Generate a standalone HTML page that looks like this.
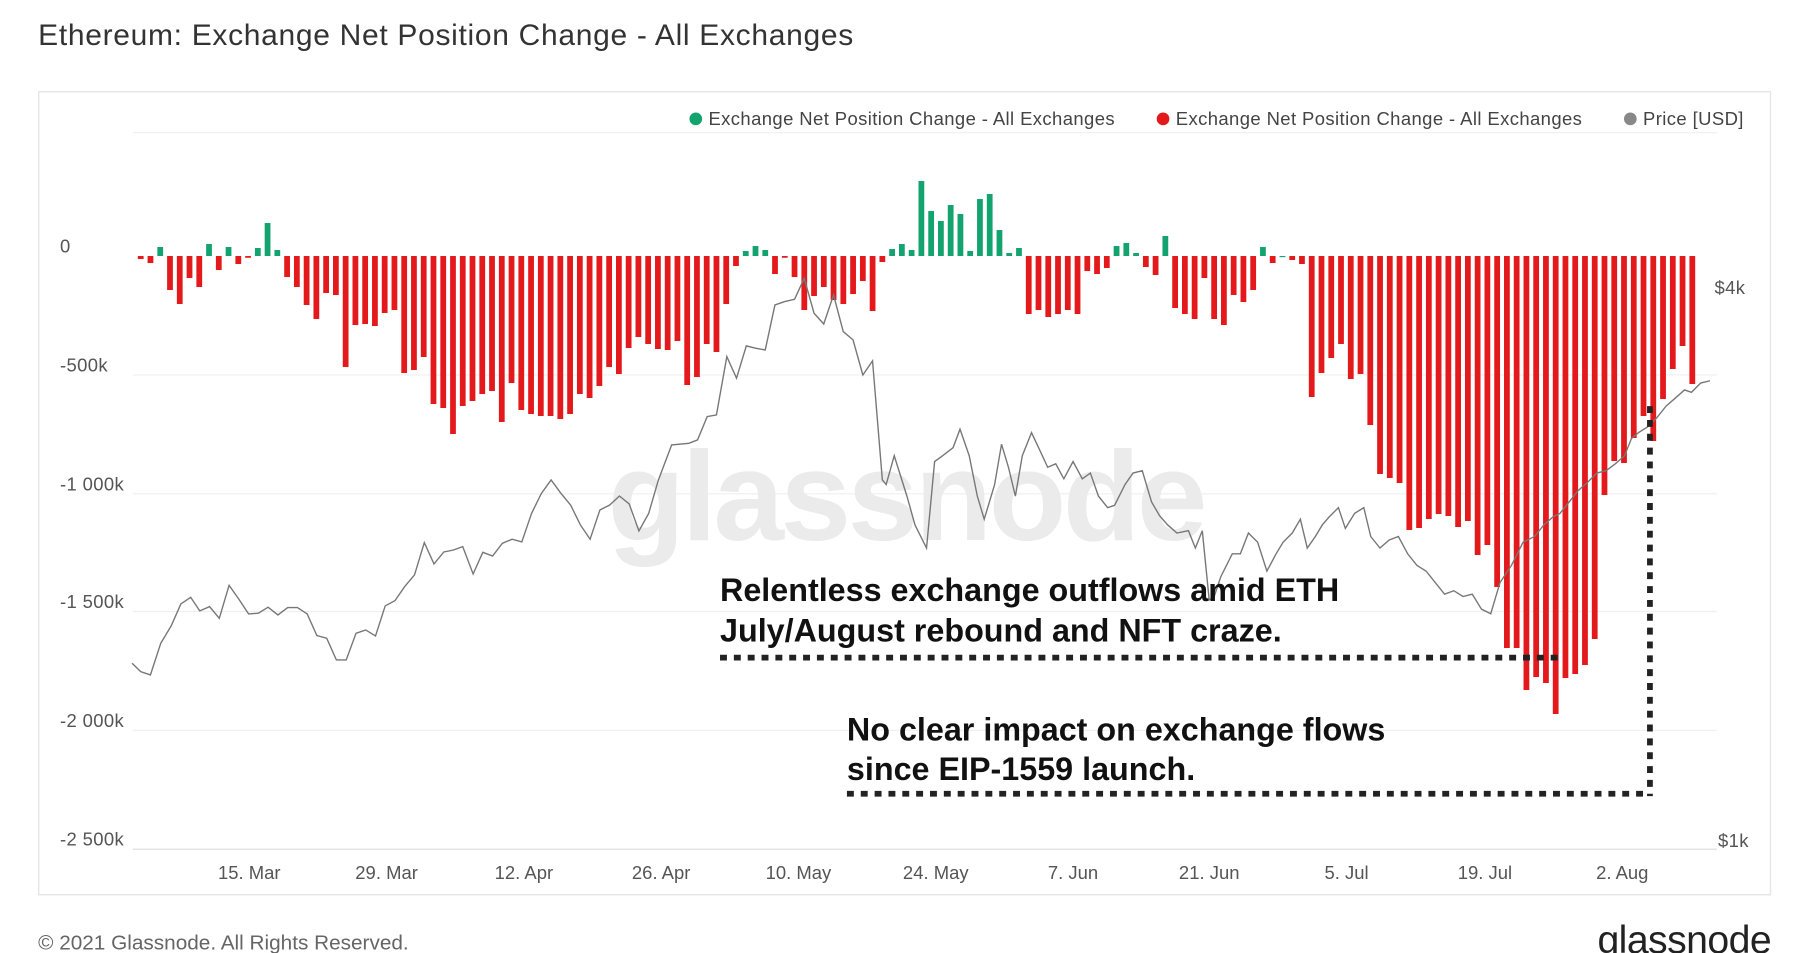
<!DOCTYPE html>
<html><head><meta charset="utf-8">
<style>
html,body{margin:0;padding:0;background:#fff;width:1800px;height:953px;overflow:hidden}
svg{display:block}
text{font-family:"Liberation Sans",sans-serif}
</style></head>
<body>
<svg id="s" width="1800" height="953" viewBox="0 0 1560 826" xmlns="http://www.w3.org/2000/svg">
<rect width="1560" height="826" fill="#fff"/>
<text x="33" y="39" font-size="26" fill="#333" letter-spacing="0.6">Ethereum: Exchange Net Position Change - All Exchanges</text>
<rect x="33.5" y="79.5" width="1501" height="696" fill="#fff" stroke="#e6e6e6" stroke-width="1.2"/>
<g stroke="#efefef" stroke-width="1">
<line x1="115" x2="1488" y1="115" y2="115"/>
<line x1="115" x2="1488" y1="325" y2="325"/>
<line x1="115" x2="1488" y1="428" y2="428"/>
<line x1="115" x2="1488" y1="530" y2="530"/>
<line x1="115" x2="1488" y1="633" y2="633"/>
</g>
<line x1="115" x2="1488" y1="736" y2="736" stroke="#dcdcdc" stroke-width="1"/>
<text x="785" y="468" font-size="110" fill="#ebebeb" text-anchor="middle" font-weight="bold" letter-spacing="-3">glassnode</text>
<g font-size="16" fill="#444" letter-spacing="0.35">
<circle cx="603" cy="103" r="5.5" fill="#13a36e"/><text x="614" y="108.5">Exchange Net Position Change - All Exchanges</text>
<circle cx="1008" cy="103" r="5.5" fill="#e3191c"/><text x="1019" y="108.5">Exchange Net Position Change - All Exchanges</text>
<circle cx="1413" cy="103" r="5.5" fill="#888"/><text x="1424" y="108.5">Price [USD]</text>
</g>
<g font-size="16" fill="#555" letter-spacing="0.3">
<text x="52" y="219">0</text>
<text x="52" y="322">-500k</text>
<text x="52" y="425">-1 000k</text>
<text x="52" y="527">-1 500k</text>
<text x="52" y="630">-2 000k</text>
<text x="52" y="733">-2 500k</text>
<text x="1486" y="255">$4k</text>
<text x="1489" y="734">$1k</text>
</g>
<g font-size="16" fill="#555" text-anchor="middle">
<text x="216" y="762">15. Mar</text><text x="335" y="762">29. Mar</text><text x="454" y="762">12. Apr</text>
<text x="573" y="762">26. Apr</text><text x="692" y="762">10. May</text><text x="811" y="762">24. May</text>
<text x="930" y="762">7. Jun</text><text x="1048" y="762">21. Jun</text><text x="1167" y="762">5. Jul</text>
<text x="1287" y="762">19. Jul</text><text x="1406" y="762">2. Aug</text>
</g>
<g id="bars"></g>
<polyline id="price" fill="none" stroke="#777" stroke-width="1.2" points=""/>
<g font-size="28" font-weight="bold" fill="#111">
<text x="624" y="521">Relentless exchange outflows amid ETH</text>
<text x="624" y="556">July/August rebound and NFT craze.</text>
<text x="734" y="642">No clear impact on exchange flows</text>
<text x="734" y="676">since EIP-1559 launch.</text>
</g>
<g stroke="#222" stroke-width="5" stroke-dasharray="6,6" fill="none">
<line x1="624" y1="570" x2="1354" y2="570"/>
<line x1="734" y1="688" x2="1430" y2="688"/>
<line x1="1430" y1="352" x2="1430" y2="690"/>
</g>
<text x="33" y="823" font-size="18" fill="#666">© 2021 Glassnode. All Rights Reserved.</text>
<text x="1535" y="826" font-size="34" fill="#222" text-anchor="end" letter-spacing="-0.5">glassnode</text>
</svg>
<script>
var v=[-3,-7,9,-34,-48,-22,-31,12,-14,9,-8,-1,8,33,6,-21,-31,-49,-63,-37,-39,-111,-69,-68,-70,-57,-54,-117,-114,-101,-148,-152,-178,-150,-145,-138,-135,-166,-127,-154,-158,-160,-160,-163,-158,-138,-142,-130,-111,-118,-92,-81,-88,-93,-94,-85,-129,-121,-88,-96,-48,-10,5,10,6,-18,-1,-21,-54,-40,-31,-44,-48,-38,-25,-55,-6,7,
12,6,75,45,35,51,42,5,57,62,26,3,8,-58,-54,-61,-58,-54,-58,-15,-18,-12,10,13,3,-11,-19,20,-52,-58,-63,-22,-63,-69,-39,-46,-34,9,-7,0,-4,-8,-141,-117,-102,-88,-123,-118,-169,-218,-222,-227,-274,-272,-263,-258,-260,-271,-265,-299,-289,-331,-392,-392,-434,-421,-427,-458,-422,-418,-409,-383,-239,-205,-207,-182,-160,-185,-143,-113,-90,-128];
var g=document.getElementById('bars'),ns='http://www.w3.org/2000/svg',z=221.9,s=1.1538;
for(var i=0;i<v.length;i++){var h=v[i]/s,x=121.9+8.458*i-2.5,r=document.createElementNS(ns,'rect');
r.setAttribute('x',x);r.setAttribute('width',5);
if(h>=0){r.setAttribute('y',z-h);r.setAttribute('height',Math.max(h,1));r.setAttribute('fill','#13a36e');}
else{r.setAttribute('y',z);r.setAttribute('height',Math.max(-h,1.5));r.setAttribute('fill','#e3191c');}
g.appendChild(r);}
var p=[];
var z3=[[230,550],[245,575],[262,585],[280,490],[298,438],[315,372],[332,352],[348,393],[365,380],[382,415],[399,316],[416,358],[433,402],[450,400],[467,382],[484,405],[501,383],[518,383],[535,402],[552,467],[569,475],[586,540],[603,540],[620,460],[637,450],[654,468],[671,378],[688,362],[705,320],[722,285],[739,188],[756,252],[773,216],[790,210],[806,200],[824,282],[841,217],[858,228],[875,190],[892,178],[909,186],[926,100],[943,40],[960,0],[977,40],[994,75],[1011,135],[1028,178],[1045,90],[1062,75],[1079,48],[1096,72],[1113,153],[1130,100],[1147,0]];
z3.forEach(function(a){p.push([a[0]/2.01,416+a[1]/3.462]);});
var z1=[[1170,1335],[1200,1330],[1215,1320],[1232,1250],[1248,1245],[1266,1070],[1283,1135],[1300,1038],[1316,1045],[1333,1050],[1350,915],[1367,905],[1384,898],[1401,835],[1418,940],[1435,972],[1452,885],[1469,995],[1486,1020],[1503,1125],[1520,1083],[1537,1440]];
z1.forEach(function(a){p.push([a[0]/2.01,a[1]/3.462]);});
var d=[[768,420],[775,395],[786,430],[793,455],[803,475],[810,400],[817,395],[826,388],[832,372],[840,395],[847,430],[853,450],[862,420],[868,385],[874,405],[880,430],[886,395],[894,375],[902,392],[908,405],[915,402],[922,415],[930,400],[938,415],[945,410],[952,430],[960,440],[966,438],[975,420],[982,410],[990,408],[998,435],[1005,447],[1012,455],[1020,462],[1030,460],[1036,475],[1042,460],[1048,520],[1052,518],[1058,500],[1068,480],[1075,480],[1082,462],[1090,470],[1098,495],[1106,480],[1112,470],[1120,462],[1127,450],[1133,475],[1140,465],[1146,455],[1152,448],[1160,440],[1166,458],[1174,445],[1182,440],[1188,465],[1196,475],[1204,468],[1212,465],[1220,480],[1228,490],[1236,495],[1244,505],[1252,515],[1260,512],[1268,517],[1276,515],[1284,528],[1292,532],[1300,505],[1310,490],[1320,470],[1330,465],[1338,455],[1346,448],[1352,445],[1360,435],[1368,425],[1376,418],[1384,410],[1392,408],[1400,402],[1408,395],[1414,380],[1420,375],[1428,370],[1436,362],[1444,352],[1452,345],[1460,338],[1466,340],[1474,332],[1482,330]];
d.forEach(function(a){p.push(a);});
document.getElementById('price').setAttribute('points',p.map(function(a){return a[0].toFixed(1)+','+a[1].toFixed(1);}).join(' '));
</script>
</body></html>
